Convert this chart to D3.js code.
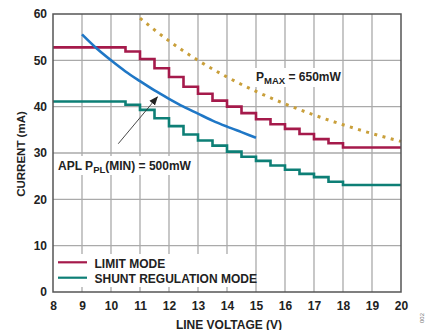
<!DOCTYPE html>
<html><head><meta charset="utf-8">
<script src="https://cdn.jsdelivr.net/npm/d3@7/dist/d3.min.js"></script>
<style>body{margin:0;background:#fff}svg{display:block;font-family:"Liberation Sans",Arial,sans-serif}</style>
</head><body><svg id="c" width="427" height="330"></svg>
<script>
const xTicks = [8,9,10,11,12,13,14,15,16,17,18,19,20];
const yTicks = [0,10,20,30,40,50,60];
const stepVoltages = [8,10.5,11,11.5,12,12.5,13,13.5,14,14.5,15,15.5,16,16.5,17,17.5,18,20];
const limitMode = [52.8,51.9,50.3,48.3,46.4,44.3,42.8,41.3,40.0,38.6,37.3,36.2,35.2,34.1,33.0,32.1,31.2,31.2];
const shuntMode = [41.1,40.4,39.3,37.5,35.8,34.0,32.7,31.6,30.3,29.2,28.3,27.3,26.4,25.5,24.8,23.8,23.1,23.1];
const aplVoltages = [9,9.5,10,10.5,11,11.5,12,12.5,13,13.5,14,14.5,15];
const aplCurrent = [55.6,52.6,50.0,47.6,45.5,43.5,41.7,40.0,38.5,37.0,35.7,34.5,33.3];
const pmaxVoltages = [11,12,13,14,15,16,17,18,19,20];
const pmaxCurrent = [59.1,54.2,50.0,46.4,43.3,40.6,38.2,36.1,34.2,32.5];
const legendLabels = ["LIMIT MODE","SHUNT REGULATION MODE"];

const svg = d3.select("#c");
const L=53, R=401, T=14, B=292;
const x = d3.scaleLinear().domain([8,20]).range([L,R]);
const y = d3.scaleLinear().domain([0,60]).range([B,T]);
const RED="#a51a4b", TEAL="#0d7f76", BLUE="#1f77c6", GOLD="#c99f3a";

// grid
svg.append("g").selectAll("line").data(xTicks.slice(1,-1)).join("line")
  .attr("x1",d=>x(d)).attr("x2",d=>x(d)).attr("y1",T).attr("y2",B)
  .attr("stroke","#aaa").attr("stroke-width",1.3);
svg.append("g").selectAll("line").data(yTicks.slice(1,-1)).join("line")
  .attr("y1",d=>y(d)).attr("y2",d=>y(d)).attr("x1",L).attr("x2",R)
  .attr("stroke","#aaa").attr("stroke-width",1.3);

// axes labels
const xa = d3.axisBottom(x).tickValues(xTicks).tickSize(0).tickPadding(9);
const gx = svg.append("g").attr("transform",`translate(0,${B})`).call(xa);
gx.select(".domain").remove();
gx.selectAll("text").attr("font-size",12).attr("font-weight","bold").attr("fill","#222").attr("font-family","Liberation Sans, Arial, sans-serif");
const ya = d3.axisLeft(y).tickValues(yTicks).tickSize(0).tickPadding(6);
const gy = svg.append("g").attr("transform",`translate(${L},0)`).call(ya);
gy.select(".domain").remove();
gy.selectAll("text").attr("font-size",12).attr("font-weight","bold").attr("fill","#222").attr("font-family","Liberation Sans, Arial, sans-serif");

svg.append("text").attr("x",(L+R)/2+2).attr("y",328.5).attr("text-anchor","middle")
  .attr("font-size",12).attr("font-weight","bold").attr("fill","#222").text("LINE VOLTAGE (V)");
svg.append("text").attr("transform",`translate(25,${(T+B)/2+1}) rotate(-90)`).attr("text-anchor","middle")
  .attr("font-size",11.5).attr("font-weight","bold").attr("fill","#222").text("CURRENT (mA)");
svg.append("text").attr("transform","translate(424,318) rotate(-90)").attr("text-anchor","middle")
  .attr("font-size",6).attr("fill","#777").text("002");

// label backgrounds
svg.append("rect").attr("x",55).attr("y",254).attr("width",197).attr("height",33).attr("fill","#fff");
svg.append("rect").attr("x",56).attr("y",156).attr("width",128).attr("height",19).attr("fill","#fff");
svg.append("rect").attr("x",253).attr("y",68).attr("width",88).attr("height",19).attr("fill","#fff");

// series
const step = d3.line().x(d=>x(d[0])).y(d=>y(d[1])).curve(d3.curveStepAfter);
svg.append("path").attr("d",step(stepVoltages.map((v,i)=>[v,limitMode[i]])))
  .attr("fill","none").attr("stroke",RED).attr("stroke-width",2.6);
svg.append("path").attr("d",step(stepVoltages.map((v,i)=>[v,shuntMode[i]])))
  .attr("fill","none").attr("stroke",TEAL).attr("stroke-width",2.6);
const smooth = d3.line().x(d=>x(d[0])).y(d=>y(d[1])).curve(d3.curveMonotoneX);
svg.append("path").attr("d",smooth(aplVoltages.map((v,i)=>[v,aplCurrent[i]])))
  .attr("fill","none").attr("stroke",BLUE).attr("stroke-width",2.6);
svg.append("path").attr("d",smooth(pmaxVoltages.map((v,i)=>[v,pmaxCurrent[i]])))
  .attr("fill","none").attr("stroke",GOLD).attr("stroke-width",3).attr("stroke-dasharray","3,5.5");

// frame
svg.append("rect").attr("x",L).attr("y",T).attr("width",R-L).attr("height",B-T)
  .attr("fill","none").attr("stroke","#555").attr("stroke-width",1.5);

// annotations
svg.append("defs").append("marker").attr("id","ah").attr("viewBox","0 0 10 10")
  .attr("refX",9).attr("refY",5).attr("markerWidth",9).attr("markerHeight",9)
  .attr("markerUnits","userSpaceOnUse").attr("orient","auto")
  .append("path").attr("d","M0,1 L10,5 L0,9 Z").attr("fill","#222");
svg.append("line").attr("x1",x(10.25)).attr("y1",y(32)).attr("x2",x(11.6)).attr("y2",y(42.1))
  .attr("stroke","#333").attr("stroke-width",0.9).attr("marker-end","url(#ah)");

const t1 = svg.append("text").attr("x",58).attr("y",170).attr("font-size",12).attr("font-weight","bold").attr("fill","#222");
t1.append("tspan").text("APL P");
t1.append("tspan").attr("font-size",9.5).attr("dy",2.5).text("PL");
t1.append("tspan").attr("dy",-2.5).text("(MIN) = 500mW");
const t2 = svg.append("text").attr("x",256).attr("y",81).attr("font-size",12).attr("font-weight","bold").attr("fill","#222");
t2.append("tspan").text("P");
t2.append("tspan").attr("font-size",9.5).attr("dy",2.5).text("MAX");
t2.append("tspan").attr("dy",-2.5).text(" = 650mW");

// legend
const lg = svg.append("g");
[RED,TEAL].forEach((c,i)=>{
  lg.append("line").attr("x1",58).attr("x2",87).attr("y1",262.3+i*15.4).attr("y2",262.3+i*15.4)
    .attr("stroke",c).attr("stroke-width",2.2);
  lg.append("text").attr("x",94.5).attr("y",267.5+i*15.5).attr("font-size",12).attr("font-weight","bold")
    .attr("fill","#222").text(legendLabels[i]);
});
</script></body></html>
